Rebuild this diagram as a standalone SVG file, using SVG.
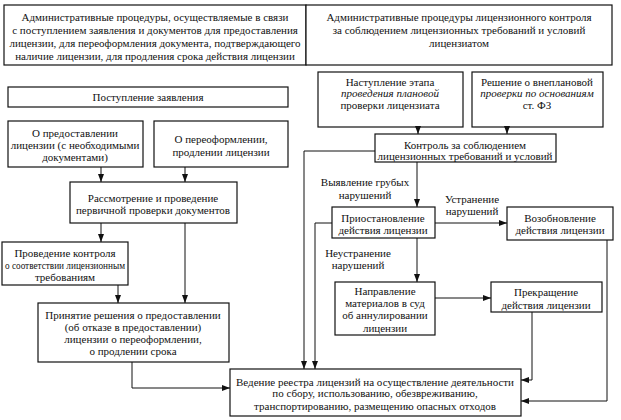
<svg xmlns="http://www.w3.org/2000/svg" width="621" height="420" viewBox="0 0 621 420">
<style>
.b{fill:#fff;stroke:#111;stroke-width:1.2}
.t{font-family:'Liberation Serif','Times New Roman','DejaVu Serif',serif;font-size:11px;fill:#111;text-anchor:middle}
.i{font-style:italic}
.c{fill:none;stroke:#111;stroke-width:1}
</style>
<defs>
<marker id="a" viewBox="0 0 8 6" refX="8" refY="3" markerWidth="8" markerHeight="6" markerUnits="userSpaceOnUse" orient="auto">
<path d="M0,0 L8,3 L0,6 z" fill="#111"/>
</marker>
</defs>
<rect width="621" height="420" fill="#fff"/>
<g id="hdr-left">
<rect class="b" x="4" y="5" width="302" height="60"/>
<text class="t" x="155" y="21">Административные процедуры, осуществляемые в связи</text>
<text class="t" x="155" y="34">с поступлением заявления и документов для предоставления</text>
<text class="t" x="155" y="47">лицензии, для переоформления документа, подтверждающего</text>
<text class="t" x="155" y="60">наличие лицензии, для продления срока действия лицензии</text>
</g>
<g id="hdr-right">
<rect class="b" x="306" y="5" width="306" height="60"/>
<text class="t" x="459" y="21">Административные процедуры лицензионного контроля</text>
<text class="t" x="459" y="34">за соблюдением лицензионных требований и условий</text>
<text class="t" x="459" y="47">лицензиатом</text>
</g>
<g id="n-postuplenie">
<rect class="b" x="8" y="87" width="280" height="20"/>
<text class="t" x="148" y="101">Поступление заявления</text>
</g>
<g id="n-predost">
<rect class="b" x="8" y="121" width="135" height="46"/>
<text class="t" x="75" y="137">О предоставлении</text>
<text class="t" x="75" y="149">лицензии (с необходимыми</text>
<text class="t" x="75" y="161">документами)</text>
</g>
<g id="n-pereof">
<rect class="b" x="154" y="121" width="134" height="46"/>
<text class="t" x="221" y="143">О переоформлении,</text>
<text class="t" x="221" y="156">продлении лицензии</text>
</g>
<g id="n-rassm">
<rect class="b" x="70" y="182" width="167" height="41"/>
<text class="t" x="153" y="202">Рассмотрение и проведение</text>
<text class="t" x="153" y="214">первичной проверки документов</text>
</g>
<g id="n-kontrol-left">
<rect class="b" x="2" y="242" width="126" height="43"/>
<text class="t" x="65" y="257">Проведение контроля</text>
<text class="t" x="65" y="269" textLength="120" lengthAdjust="spacingAndGlyphs">о соответствии лицензионным</text>
<text class="t" x="65" y="281">требованиям</text>
</g>
<g id="n-prinyatie">
<rect class="b" x="38" y="303" width="191" height="59"/>
<text class="t" x="133" y="319">Принятие решения о предоставлении</text>
<text class="t" x="133" y="331">(об отказе в предоставлении)</text>
<text class="t" x="133" y="343">лицензии о переоформлении,</text>
<text class="t" x="133" y="355">о продлении срока</text>
</g>
<g id="n-nastuplenie">
<rect class="b" x="318" y="72" width="145" height="55"/>
<text class="t" x="390" y="86">Наступление этапа</text>
<text class="t i" x="390" y="97">проведения плановой</text>
<text class="t" x="390" y="109">проверки лицензиата</text>
</g>
<g id="n-reshenie">
<rect class="b" x="472" y="72" width="131" height="55"/>
<text class="t" x="537" y="86">Решение о внеплановой</text>
<text class="t i" x="537" y="97">проверки по основаниям</text>
<text class="t" x="537" y="109">ст. ФЗ</text>
</g>
<g id="n-kontrol">
<rect class="b" x="375" y="134" width="181" height="28"/>
<text class="t" x="465" y="149">Контроль за соблюдением</text>
<text class="t" x="465" y="160">лицензионных требований и условий</text>
</g>
<g id="n-priost">
<rect class="b" x="332" y="207" width="103" height="31"/>
<text class="t" x="383" y="222">Приостановление</text>
<text class="t" x="383" y="234">действия лицензии</text>
</g>
<g id="n-vozob">
<rect class="b" x="507" y="207" width="106" height="33"/>
<text class="t" x="560" y="222">Возобновление</text>
<text class="t" x="560" y="234">действия лицензии</text>
</g>
<g id="n-napravl">
<rect class="b" x="335" y="282" width="100" height="53"/>
<text class="t" x="385" y="295">Направление</text>
<text class="t" x="385" y="307">материалов в суд</text>
<text class="t" x="385" y="319">об аннулировании</text>
<text class="t" x="385" y="332">лицензии</text>
</g>
<g id="n-prekr">
<rect class="b" x="491" y="282" width="111" height="30"/>
<text class="t" x="546" y="296">Прекращение</text>
<text class="t" x="546" y="309">действия лицензии</text>
</g>
<g id="n-vedenie">
<rect class="b" x="230" y="369" width="291" height="47"/>
<text class="t" x="375" y="386">Ведение реестра лицензий на осуществление деятельности</text>
<text class="t" x="375" y="397">по сбору, использованию, обезвреживанию,</text>
<text class="t" x="375" y="410">транспортированию, размещению опасных отходов</text>
</g>
<g id="connectors">
<path class="c" d="M101,167 V182" marker-end="url(#a)"/>
<path class="c" d="M185,167 V182" marker-end="url(#a)"/>
<path class="c" d="M101,223 V242" marker-end="url(#a)"/>
<path class="c" d="M185,223 V303" marker-end="url(#a)"/>
<path class="c" d="M118,285 V303" marker-end="url(#a)"/>
<path class="c" d="M132,362 V388 H230" marker-end="url(#a)"/>
<path class="c" d="M418,127 V134" marker-end="url(#a)"/>
<path class="c" d="M507,127 V134" marker-end="url(#a)"/>
<path class="c" d="M375,151 H304 V369" marker-end="url(#a)"/>
<path class="c" d="M417,162 V207" marker-end="url(#a)"/>
<path class="c" d="M332,223 H315 V369" marker-end="url(#a)"/>
<path class="c" d="M435,223 H507" marker-end="url(#a)"/>
<path class="c" d="M417,238 V282" marker-end="url(#a)"/>
<path class="c" d="M435,298 H491" marker-end="url(#a)"/>
<path class="c" d="M532,312 V380 H521" marker-end="url(#a)"/>
<path class="c" d="M607,240 V401 H521" marker-end="url(#a)"/>
<text class="t" x="365" y="186">Выявление грубых</text>
<text class="t" x="365" y="199">нарушений</text>
<text class="t" x="472" y="203">Устранение</text>
<text class="t" x="472" y="215">нарушений</text>
<text class="t" x="358" y="257">Неустранение</text>
<text class="t" x="358" y="269">нарушений</text>
</g>
</svg>
